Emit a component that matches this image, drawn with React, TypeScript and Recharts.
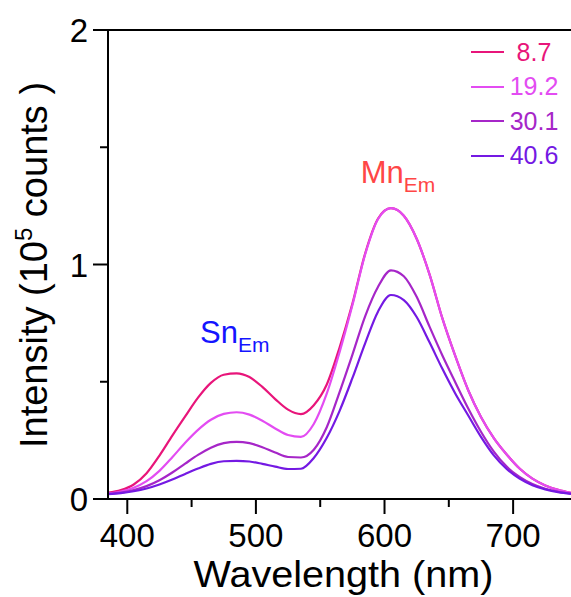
import React from 'react';
import { LineChart, Line, XAxis, YAxis, ReferenceLine, ReferenceDot } from 'recharts';

const FONT = 'Arial, "Liberation Sans", sans-serif';

// wavelength grid (nm)
const wavelengths = [
  385, 395, 405, 415, 425, 435, 445, 455, 465, 475, 485, 495, 505, 515, 525, 535, 545, 555, 565,
  575, 585, 595, 605, 615, 625, 635, 645, 655, 665, 675, 685, 695, 705, 715, 725, 735, 745,
];

// intensity, 10^5 counts
const int87 = [
  0.027, 0.038, 0.062, 0.11, 0.185, 0.27, 0.352, 0.432, 0.495, 0.53, 0.536, 0.52, 0.478, 0.426, 0.381,
  0.362, 0.4, 0.487, 0.645, 0.832, 1.048, 1.196, 1.24, 1.208, 1.11, 0.958, 0.77, 0.61, 0.465, 0.35,
  0.26, 0.19, 0.13, 0.087, 0.058, 0.039, 0.026,
];
const int192 = [
  0.024, 0.032, 0.048, 0.076, 0.12, 0.178, 0.24, 0.295, 0.338, 0.363, 0.37, 0.36, 0.334, 0.301, 0.273,
  0.265, 0.32, 0.448, 0.625, 0.826, 1.044, 1.194, 1.24, 1.208, 1.11, 0.958, 0.77, 0.61, 0.465, 0.35,
  0.26, 0.19, 0.13, 0.087, 0.058, 0.039, 0.026,
];
const int301 = [
  0.022, 0.027, 0.038, 0.055, 0.08, 0.113, 0.151, 0.188, 0.219, 0.238, 0.244, 0.238, 0.221, 0.198, 0.179,
  0.177, 0.21, 0.305, 0.455, 0.615, 0.78, 0.905, 0.975, 0.95, 0.862, 0.735, 0.612, 0.498, 0.387, 0.287,
  0.202, 0.138, 0.094, 0.064, 0.044, 0.031, 0.023,
];
const int406 = [
  0.021, 0.025, 0.033, 0.045, 0.062, 0.083, 0.107, 0.13, 0.15, 0.161, 0.163, 0.16, 0.15, 0.138, 0.128,
  0.129, 0.175, 0.26, 0.375, 0.515, 0.665, 0.8, 0.87, 0.848, 0.776, 0.668, 0.555, 0.45, 0.357, 0.265,
  0.186, 0.128, 0.087, 0.059, 0.041, 0.029, 0.022,
];

const seriesNames = ['8.7', '19.2', '30.1', '40.6'];
const seriesColors = ['#e8157a', '#e34cf2', '#a626c8', '#7419e3'];
const seriesValues = [int87, int192, int301, int406];

const xTicks = [400, 450, 500, 550, 600, 650, 700];
const yTicks = [0, 0.5, 1, 1.5, 2];

const data = wavelengths.map((w, i) => {
  const row: any = { w };
  seriesValues.forEach((vals, k) => {
    row['s' + k] = vals[i];
  });
  return row;
});

const XTick = (props: any) => {
  const { x, y, payload } = props;
  const major = payload.value % 100 === 0;
  return (
    <g>
      <line x1={x} y1={y} x2={x} y2={y + (major ? 15 : 8)} stroke="#000" strokeWidth={2} />
      {major && (
        <text x={x} y={y + 48} textAnchor="middle" fontSize={33} fill="#000" fontFamily={FONT}>
          {payload.value}
        </text>
      )}
    </g>
  );
};

const YTick = (props: any) => {
  const { x, y, payload } = props;
  const major = payload.value % 1 === 0;
  return (
    <g>
      <line x1={x - (major ? 15 : 8)} y1={y} x2={x} y2={y} stroke="#000" strokeWidth={2} />
      {major && (
        <text x={x - 20} y={y + 12} textAnchor="end" fontSize={33} fill="#000" fontFamily={FONT}>
          {payload.value}
        </text>
      )}
    </g>
  );
};

const XTitle = (props: any) => {
  const vb = props.viewBox;
  return (
    <text
      x={vb.x + vb.width / 2 + 4}
      y={vb.y + 88}
      textAnchor="middle"
      fontSize={36}
      textLength={300}
      lengthAdjust="spacingAndGlyphs"
      fill="#000"
      fontFamily={FONT}
    >
      Wavelength (nm)
    </text>
  );
};

const YTitle = () => (
  <text
    x={47}
    y={265}
    transform="rotate(-90 47 265)"
    textAnchor="middle"
    fontSize={38}
    fill="#000"
    fontFamily={FONT}
  >
    Intensity (10
    <tspan fontSize={24} dy={-15}>5</tspan>
    <tspan dy={15}> counts )</tspan>
  </text>
);

const Anno = ({ vb, main, sub, color }: any) => (
  <text x={vb.x + vb.width / 2} y={vb.y + vb.height / 2} fill={color} fontFamily={FONT}>
    <tspan fontSize={31}>{main}</tspan>
    <tspan fontSize={21} dy={9}>{sub}</tspan>
  </text>
);

export default function App() {
  return (
    <div style={{ position: 'absolute', left: 0, top: 0, width: 571, height: 597, background: '#fff' }}>
      <LineChart width={571} height={597} data={data} margin={{ top: 30, right: 0, bottom: 0, left: 0 }}>
        <XAxis
          dataKey="w"
          type="number"
          domain={[385, 745]}
          ticks={xTicks}
          allowDataOverflow
          height={98}
          tickSize={0}
          tickMargin={0}
          tickLine={false}
          tick={<XTick />}
          axisLine={{ stroke: '#000', strokeWidth: 2 }}
          label={{ content: (p: any) => <XTitle {...p} /> }}
        />
        <YAxis
          type="number"
          domain={[0, 2]}
          ticks={yTicks}
          allowDataOverflow
          width={108}
          tickSize={0}
          tickMargin={0}
          tickLine={false}
          tick={<YTick />}
          axisLine={{ stroke: '#000', strokeWidth: 2 }}
          label={{ content: () => <YTitle /> }}
        />
        <ReferenceLine y={2} stroke="#000" strokeWidth={2} />
        {seriesNames.map((name, k) => (
          <Line
            key={name}
            dataKey={'s' + k}
            name={name}
            type="monotone"
            stroke={seriesColors[k]}
            strokeWidth={2.2}
            dot={false}
            isAnimationActive={false}
          />
        ))}
        <ReferenceDot
          x={456.5}
          y={0.664}
          r={1}
          fill="none"
          stroke="none"
          label={{ content: (p: any) => <Anno vb={p.viewBox} main="Sn" sub="Em" color="#1414ff" /> }}
        />
        <ReferenceDot
          x={581.5}
          y={1.349}
          r={1}
          fill="none"
          stroke="none"
          label={{ content: (p: any) => <Anno vb={p.viewBox} main="Mn" sub="Em" color="#ff4646" /> }}
        />
      </LineChart>
      <div style={{ position: 'absolute', left: 466, top: 35, width: 105, fontFamily: FONT }}>
        {seriesNames.map((name, k) => (
          <div key={name} style={{ height: 34.5, display: 'flex', alignItems: 'center' }}>
            <div style={{ width: 33, height: 2, marginLeft: 5, background: seriesColors[k] }} />
            <div style={{ width: 60, textAlign: 'center', fontSize: 25, color: seriesColors[k] }}>{name}</div>
          </div>
        ))}
      </div>
    </div>
  );
}
